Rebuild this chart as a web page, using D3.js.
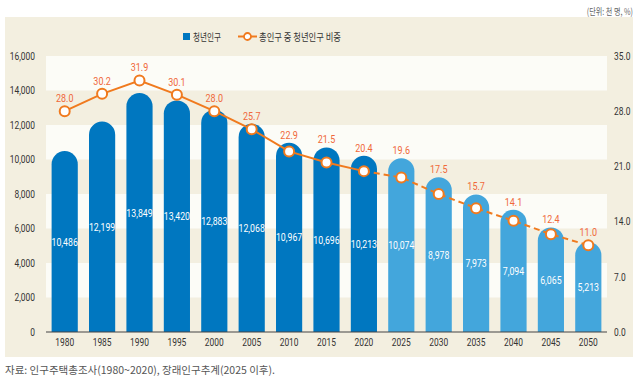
<!DOCTYPE html>
<html>
<head>
<meta charset="utf-8">
<script src="https://cdn.jsdelivr.net/npm/d3@7"></script>
<style>
  body { margin: 0; background: #fff; }
  svg { display: block; font-family: Roboto, "Noto Sans CJK KR", sans-serif; }
  .kr { font-family: "Noto Sans CJK KR", sans-serif; }
</style>
</head>
<body>
<svg id="chart" width="640" height="380"></svg>
<script>
const years = ["1980","1985","1990","1995","2000","2005","2010","2015","2020","2025","2030","2035","2040","2045","2050"];
const youthPop = [10486,12199,13849,13420,12883,12068,10967,10696,10213,10074,8978,7973,7094,6065,5213];
const youthShare = [28.0,30.2,31.9,30.1,28.0,25.7,22.9,21.5,20.4,19.6,17.5,15.7,14.1,12.4,11.0];
const leftTicks = [0,2000,4000,6000,8000,10000,12000,14000,16000];
const rightTicks = [0,7,14,21,28,35];
const projectedFrom = "2025";

const svg = d3.select("#chart");
const margin = {left: 46, right: 34, top: 56, bottom: 48};
const W = 640, H = 380;
const x0 = margin.left, x1 = W - margin.right + 1;
const yTop = margin.top, yBot = H - margin.bottom;

const darkBlue = "#0077c0", lightBlue = "#43a6dc", orange = "#f07a1e", labelOrange = "#f0683a";

// squeeze text horizontally to imitate the condensed face of the original
function condense(sel, ratio) {
  sel.each(function() {
    const w = this.getComputedTextLength();
    d3.select(this).attr("textLength", w * ratio).attr("lengthAdjust", "spacingAndGlyphs");
  });
}

// panel background
svg.append("rect").attr("x", 5).attr("y", 17).attr("width", 628).attr("height", 340).attr("fill", "#f3efe0");

const x = d3.scaleBand().domain(years).range([x0, x1]).paddingInner(0.3).paddingOuter(0.15);
const yL = d3.scaleLinear().domain([0, 16000]).range([yBot, yTop]);
const yR = d3.scaleLinear().domain([0, 35]).range([yBot, yTop]);

// alternating stripes
const stripes = svg.append("g");
leftTicks.slice(0, -1).forEach((t, i) => {
  if (i % 2 === 1) {
    stripes.append("rect").attr("x", x0).attr("width", x1 - x0)
      .attr("y", yL(t + 2000)).attr("height", yL(t) - yL(t + 2000))
      .attr("fill", "#fcfcf7");
  }
});

// left axis
const axL = svg.append("g").attr("transform", `translate(${x0 - 8},0)`)
  .call(d3.axisLeft(yL).tickValues(leftTicks).tickSize(0).tickFormat(d3.format(",")));
axL.select(".domain").remove();
axL.selectAll("text").attr("font-family", "Roboto").attr("font-size", 10.5).attr("fill", "#333").call(condense, 0.8);

// right axis
const axR = svg.append("g").attr("transform", `translate(${x1 + 4},0)`)
  .call(d3.axisRight(yR).tickValues(rightTicks).tickSize(0).tickFormat(d3.format(".1f")));
axR.select(".domain").remove();
axR.selectAll("text").attr("font-family", "Roboto").attr("font-size", 10.5).attr("fill", "#333").call(condense, 0.8);

// bars with rounded tops
const bw = x.bandwidth(), r = bw / 2;
function barPath(d, i) {
  const xl = x(years[i]), top = yL(d), bottom = yBot;
  return `M${xl},${bottom}V${top + r}A${r},${r} 0 0 1 ${xl + bw},${top + r}V${bottom}Z`;
}
const isProj = y => +y >= +projectedFrom;
svg.append("g").selectAll("path").data(youthPop).join("path")
  .attr("d", barPath)
  .attr("fill", (d, i) => isProj(years[i]) ? lightBlue : darkBlue);

// bar labels at bar middle
svg.append("g").selectAll("text").data(youthPop).join("text")
  .attr("x", (d, i) => x(years[i]) + bw / 2)
  .attr("y", d => (yL(d) + yBot) / 2 + 4)
  .attr("text-anchor", "middle").attr("font-size", 11.5).attr("fill", "#fff")
  .text(d => d3.format(",")(d))
  .call(condense, 0.76);

// x axis
const axX = svg.append("g").attr("transform", `translate(0,${yBot})`)
  .call(d3.axisBottom(x).tickSize(0).tickPadding(7));
axX.select(".domain").attr("d", `M${x0},0H${x1}`).attr("stroke", "#444").attr("stroke-width", 1.2);
axX.selectAll("text").attr("font-family", "Roboto").attr("font-size", 10.5).attr("fill", "#333").call(condense, 0.8);

// line
const pts = youthShare.map((v, i) => [x(years[i]) + bw / 2, yR(v), years[i]]);
const line = d3.line();
const splitIdx = years.indexOf(projectedFrom) - 1;
svg.append("path").attr("d", line(pts.slice(0, splitIdx + 1)))
  .attr("fill", "none").attr("stroke", orange).attr("stroke-width", 2);
svg.append("path").attr("d", line(pts.slice(splitIdx)))
  .attr("fill", "none").attr("stroke", orange).attr("stroke-width", 2).attr("stroke-dasharray", "6,4");
svg.append("g").selectAll("circle").data(pts).join("circle")
  .attr("cx", d => d[0]).attr("cy", d => d[1]).attr("r", 5)
  .attr("fill", "#fff").attr("stroke", orange).attr("stroke-width", 2);
// share labels sit above the marker, or above the bar top if the bar is higher
svg.append("g").selectAll("text").data(youthShare).join("text")
  .attr("x", (d, i) => pts[i][0])
  .attr("y", (d, i) => Math.min(pts[i][1] - 9, yL(youthPop[i]) - 4))
  .attr("text-anchor", "middle").attr("font-size", 11.5).attr("fill", labelOrange)
  .text(d => d.toFixed(1))
  .call(condense, 0.78);

// legend
const lg = svg.append("g").attr("transform", "translate(183,41)");
lg.append("rect").attr("x", 0).attr("y", -8).attr("width", 7).attr("height", 7).attr("fill", darkBlue);
lg.append("text").attr("class", "kr").attr("x", 10).attr("y", 0).attr("font-size", 10.5).attr("fill", "#333")
  .attr("textLength", 28).attr("lengthAdjust", "spacingAndGlyphs").text("청년인구");
lg.append("line").attr("x1", 55).attr("x2", 74).attr("y1", -4.5).attr("y2", -4.5).attr("stroke", orange).attr("stroke-width", 2);
lg.append("circle").attr("cx", 64.5).attr("cy", -4.5).attr("r", 3.5).attr("fill", "#fff").attr("stroke", orange).attr("stroke-width", 1.8);
lg.append("text").attr("class", "kr").attr("x", 76).attr("y", 0).attr("font-size", 10.5).attr("fill", "#333")
  .attr("textLength", 82).attr("lengthAdjust", "spacingAndGlyphs").text("총인구 중 청년인구 비중");

// unit and source
svg.append("text").attr("class", "kr").attr("transform", "translate(633,15) scale(0.75,1)")
  .attr("text-anchor", "end").attr("font-size", 9.5).attr("fill", "#666")
  .text("(단위: 천 명, %)");
svg.append("text").attr("class", "kr").attr("x", 5).attr("y", 374)
  .attr("font-size", 10.5).attr("fill", "#555")
  .attr("textLength", 270).attr("lengthAdjust", "spacingAndGlyphs").text("자료: 인구주택총조사(1980~2020), 장래인구추계(2025 이후).");
</script>
</body>
</html>
